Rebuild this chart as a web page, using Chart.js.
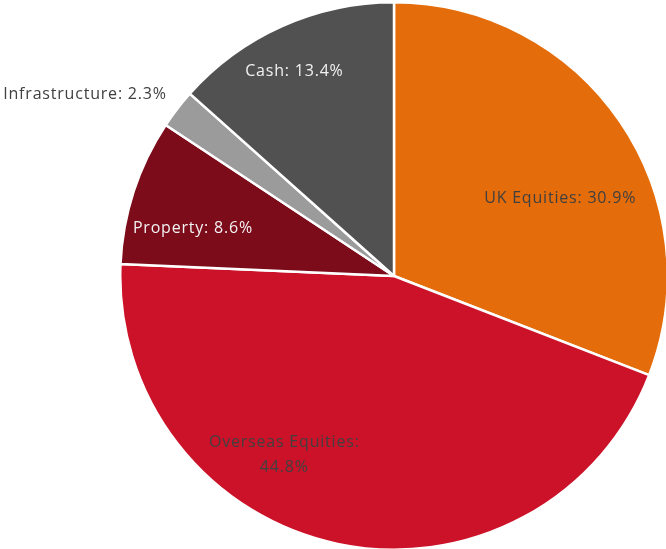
<!DOCTYPE html>
<html>
<head>
<meta charset="utf-8">
<script src="https://cdn.jsdelivr.net/npm/chart.js@4"></script>
<style>
  html, body { margin: 0; padding: 0; background: #fff; overflow: hidden; }
  #wrap { width: 670px; height: 551px; }
</style>
</head>
<body>
<div id="wrap"><canvas id="pie"></canvas></div>
<script>
var categories = ["UK Equities", "Overseas Equities", "Property", "Infrastructure", "Cash"];
var values = [30.9, 44.8, 8.6, 2.3, 13.4];
var colours = ["#E46C0A", "#CC1229", "#7D0C1B", "#9B9B9B", "#515151"];

// label placement: [angle from top in degrees, distance as fraction of radius, colour]
var labelPlace = [
    [65, 0.67, "#404040"],
    [211.6, 0.765, "#404040"],
    [283.4, 0.755, "#F2F2F2"],
    [300.5, 1.31, "#404040"],
    [334, 0.83, "#F2F2F2"]
];

var sliceLabels = {
    id: "sliceLabels",
    afterDatasetsDraw: function (chart) {
        var ctx = chart.ctx;
        var arc = chart.getDatasetMeta(0).data[0];
        var cx = arc.x, cy = arc.y, r = arc.outerRadius;
        ctx.save();
        ctx.font = "16px 'Open Sans'";
        ctx.letterSpacing = "0.8px";
        ctx.textBaseline = "middle";
        ctx.textAlign = "center";
        categories.forEach(function (name, i) {
            var p = labelPlace[i];
            var a = (p[0] - 90) * Math.PI / 180;
            var x = cx + Math.cos(a) * r * p[1];
            var y = cy + Math.sin(a) * r * p[1];
            ctx.fillStyle = p[2];
            if (name === "Overseas Equities") {
                ctx.fillText(name + ":", x, y - 12);
                ctx.fillText(values[i].toFixed(1) + "%", x, y + 13);
            } else {
                ctx.fillText(name + ": " + values[i].toFixed(1) + "%", x, y);
            }
        });
        ctx.restore();
    }
};

new Chart(document.getElementById("pie").getContext("2d"), {
    type: "pie",
    plugins: [sliceLabels],
    data: {
        labels: categories,
        datasets: [
            {
                data: values,
                backgroundColor: colours,
                borderColor: "#ffffff",
                borderWidth: 2.5
            }
        ]
    },
    options: {
        responsive: true,
        maintainAspectRatio: false,
        animation: false,
        layout: {
            padding: { left: 118, right: 0, top: 1, bottom: 0 }
        },
        plugins: {
            legend: { display: false },
            tooltip: { enabled: false }
        }
    }
});
</script>
</body>
</html>
